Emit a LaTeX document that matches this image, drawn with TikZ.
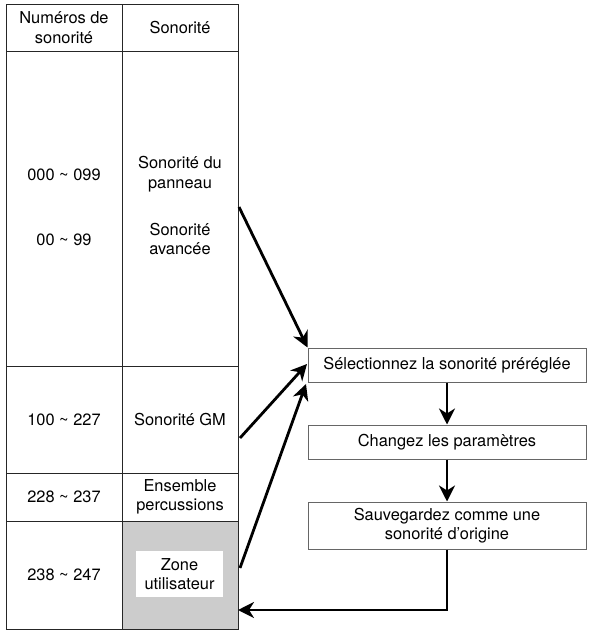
\documentclass[tikz,border=0pt]{standalone}
\usepackage{fontspec}
\setmainfont{TeX Gyre Heros}
\usetikzlibrary{arrows.meta}
\begin{document}
\begin{tikzpicture}[x=1pt,y=-1pt,
  every node/.style={font=\fontsize{16.4}{19.5}\selectfont, align=center, inner sep=0pt},
  cell/.style={draw=black!85, line width=0.9pt, minimum width=116pt},
  stepbox/.style={draw=black!60, line width=1pt, fill=white, minimum width=278pt},
  flow/.style={line width=2.8pt, -{Stealth[length=16pt,width=16pt,inset=5pt]}}]
\useasboundingbox (0,0) rectangle (593,631);
% header
\node[cell, minimum height=47pt] (h1) at (64,27.5) {Numéros de\\sonorité};
\node[cell, minimum height=47pt] (h2) at (180,27.5) {Sonorité};
% row 1
\node[cell, minimum height=315pt] (c11) at (64,208.5) {};
\node[cell, minimum height=315pt] (c12) at (180,208.5) {};
\node (t11a) at (64,175) {000 \textasciitilde{} 099};
\node (t11b) at (64,240) {00 \textasciitilde{} 99};
\node (t12a) at (180,174) {Sonorité du\\panneau};
\node (t12b) at (180,239) {Sonorité\\avancée};
% row 2
\node[cell, minimum height=107pt] (c21) at (64,419.5) {100 \textasciitilde{} 227};
\node[cell, minimum height=107pt] (c22) at (180,419.5) {Sonorité GM};
% row 3
\node[cell, minimum height=48pt] (c31) at (64,497) {228 \textasciitilde{} 237};
\node[cell, minimum height=48pt] (c32) at (180,497) {Ensemble\\percussions};
% row 4
\node[cell, minimum height=108pt] (c41) at (64,575) {238 \textasciitilde{} 247};
\node[cell, minimum height=108pt, fill=black!20] (c42) at (180,575) {};
\node[fill=white, minimum width=87pt, minimum height=46pt] (zone) at (179.5,574) {Zone\\utilisateur};
% flow boxes
\node[stepbox, minimum height=34pt] (b1) at (447,365) {Sélectionnez la sonorité préréglée};
\node[stepbox, minimum height=34pt] (b2) at (447,442) {Changez les paramètres};
\node[stepbox, minimum height=47pt] (b3) at (447,525.5) {Sauvegardez comme une\\sonorité d’origine};
% coordinates
\coordinate (s1) at (239,207);
\coordinate (s2) at (240,438);
\coordinate (s3) at (240,568);
\coordinate (e2) at (307,364);
\coordinate (e3) at (306,384);
\coordinate (turn) at (447,610);
\coordinate (back) at (238,610);
% arrows
\draw[flow] (s1) -- (b1.north west);
\draw[flow] (s2) -- (e2);
\draw[flow] (s3) -- (e3);
\draw[flow] (b1.south) -- (b2.north);
\draw[flow] (b2.south) -- (b3.north);
\draw[flow] (b3.south) -- (turn) -- (back);
\end{tikzpicture}
\end{document}
